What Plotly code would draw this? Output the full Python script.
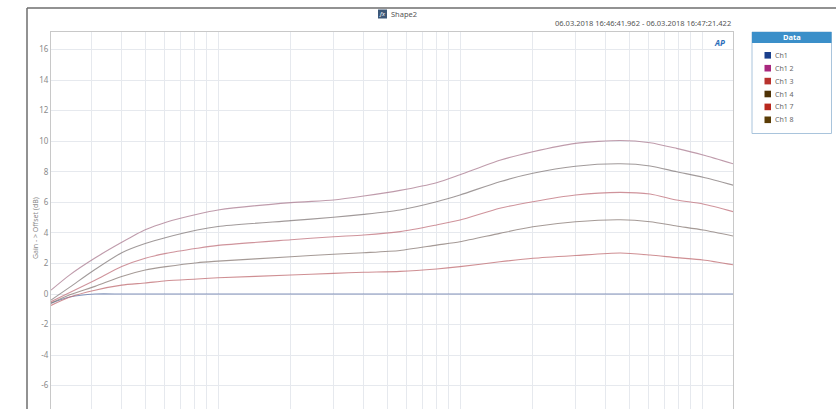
import plotly.graph_objects as go
import math

# ---- data ----
freqs = [20.4, 24.4, 31, 40, 50, 61, 82, 100, 200, 300, 400, 565, 800, 1000,
         1460, 2000, 3000, 4600, 6100, 7850, 10100, 13600]

ch1   = [-0.6, -0.2, 0.0, 0.0, 0.0, 0.0, 0.0, 0.0, 0.0, 0.0, 0.0, 0.0, 0.0, 0.0,
         0.0, 0.0, 0.0, 0.0, 0.0, 0.0, 0.0, 0.0]
ch1_2 = [0.25, 1.25, 2.35, 3.38, 4.2, 4.7, 5.22, 5.5, 5.98, 6.15, 6.41, 6.78, 7.28, 7.8,
         8.75, 9.31, 9.86, 10.05, 9.9, 9.53, 9.1, 8.5]
ch1_4 = [-0.4, 0.45, 1.6, 2.7, 3.3, 3.7, 4.19, 4.42, 4.8, 5.02, 5.21, 5.5, 6.04, 6.48,
         7.35, 7.9, 8.36, 8.52, 8.38, 8.0, 7.64, 7.1]
ch1_3 = [-0.5, 0.1, 0.9, 1.8, 2.34, 2.66, 2.99, 3.18, 3.55, 3.75, 3.86, 4.08, 4.52, 4.84,
         5.61, 6.04, 6.48, 6.65, 6.54, 6.15, 5.89, 5.37]
ch1_8 = [-0.6, -0.05, 0.5, 1.15, 1.57, 1.79, 2.05, 2.15, 2.44, 2.6, 2.7, 2.85, 3.2, 3.42,
         3.97, 4.4, 4.73, 4.86, 4.73, 4.45, 4.19, 3.78]
ch1_7 = [-0.75, -0.2, 0.25, 0.58, 0.72, 0.87, 0.98, 1.06, 1.24, 1.35, 1.42, 1.48, 1.64, 1.79,
         2.11, 2.34, 2.52, 2.68, 2.55, 2.38, 2.23, 1.9]

legend_names = ["Ch1", "Ch1 2", "Ch1 3", "Ch1 4", "Ch1 7", "Ch1 8"]
legend_colors = ["#1a3f8c", "#a8287e", "#b8322e", "#4e3206", "#b8281e", "#5a3c06"]

series = [
    ("Ch1", ch1, "rgba(110,130,175,0.85)"),
    ("Ch1 2", ch1_2, "rgba(175,130,150,0.8)"),
    ("Ch1 4", ch1_4, "rgba(130,120,120,0.75)"),
    ("Ch1 3", ch1_3, "rgba(195,120,130,0.8)"),
    ("Ch1 8", ch1_8, "rgba(135,120,115,0.75)"),
    ("Ch1 7", ch1_7, "rgba(195,115,120,0.8)"),
]

y_ticks = [-6, -4, -2, 0, 2, 4, 6, 8, 10, 12, 14, 16]
x_grid = sorted(set([d * m for m in (10, 100, 1000) for d in range(2, 10)] + [100, 1000, 10000]))

title_text = "Shape2"
date_text = "06.03.2018 16:46:41.962 - 06.03.2018 16:47:21.422"
y_title = "Gain - > Offset (dB)"

# ---- figure ----
W, H = 836, 409
L, R, T, B = 51, 733, 32, 409

def px(x):
    return (x - L) / (R - L)

def py(y):
    return (B - y) / (B - T)

fig = go.Figure()
for name, vals, col in series:
    fig.add_trace(go.Scatter(x=freqs, y=vals, mode="lines", name=name,
                             line=dict(color=col, width=1.1, shape="spline", smoothing=0.7),
                             showlegend=False, hoverinfo="skip"))

font_fam = "Noto Sans, Open Sans, sans-serif"

fig.update_layout(
    width=W, height=H,
    margin=dict(l=L, r=W - R, t=T, b=H - B, pad=0),
    paper_bgcolor="white", plot_bgcolor="white",
    showlegend=False,
    font=dict(family=font_fam, size=8, color="#888888"),
)
fig.update_xaxes(type="log", range=[math.log10(20.4), 2 + (R - 218) / 242],
                 tickvals=x_grid, showticklabels=False, ticks="",
                 showgrid=True, gridcolor="#e6e9ee", gridwidth=1,
                 showline=True, linecolor="#c8c8c8", linewidth=1, mirror=True,
                 zeroline=False)
fig.update_yaxes(range=[(294 - B) / 15.28, (294 - T) / 15.28],
                 tickvals=y_ticks, ticktext=[str(v) for v in y_ticks],
                 ticks="",
                 tickfont=dict(size=8, color="#8a8a8a", family=font_fam),
                 showgrid=True, gridcolor="#e6e9ee", gridwidth=1,
                 showline=True, linecolor="#c8c8c8", linewidth=1, mirror=True,
                 zeroline=False)

shapes = []
anns = []

def note(x, y, text, size, color, xanchor="center", angle=0):
    anns.append(dict(x=px(x), y=py(y), xref="paper", yref="paper", text=text, showarrow=False,
                     xanchor=xanchor, yanchor="middle", textangle=angle,
                     font=dict(size=size, color=color, family=font_fam)))

# outer frame lines
shapes.append(dict(type="line", xref="paper", yref="paper", x0=px(27), x1=px(836), y0=py(8), y1=py(8),
                   line=dict(color="#6e6e6e", width=1.5)))
shapes.append(dict(type="line", xref="paper", yref="paper", x0=px(27), x1=px(27), y0=py(8), y1=py(409),
                   line=dict(color="#6e6e6e", width=1.5)))
# title icon
shapes.append(dict(type="rect", xref="paper", yref="paper", x0=px(378), x1=px(387), y0=py(18.5), y1=py(9.5),
                   fillcolor="#3c5878", line=dict(width=0)))
note(382.5, 14, "<i>fx</i>", 6, "white")
note(388.5, 14, title_text, 7.5, "#555555", xanchor="left")
note(733, 23, date_text, 7.5, "#555555", xanchor="right")
# AP logo
note(719, 43, "<b><i>AP</i></b>", 8, "#2a6cb8")
# y title
note(35, 228, y_title, 7, "#8a8a8a", angle=-90)

# legend box
lx0, lx1, ly0, ly1 = 752, 831.5, 32, 133.5
shapes.append(dict(type="rect", xref="paper", yref="paper", x0=px(lx0), x1=px(lx1), y0=py(ly1), y1=py(ly0),
                   fillcolor="white", line=dict(color="#a9c4dc", width=1)))
shapes.append(dict(type="rect", xref="paper", yref="paper", x0=px(lx0), x1=px(lx1), y0=py(43), y1=py(ly0),
                   fillcolor="#3b8fc9", line=dict(width=0)))
note((lx0 + lx1) / 2, 37.5, "<b>Data</b>", 7.5, "white")
for i, (nm, col) in enumerate(zip(legend_names, legend_colors)):
    yc = 55.3 + i * 12.9
    shapes.append(dict(type="rect", xref="paper", yref="paper", x0=px(764.5), x1=px(771), y0=py(yc + 3.3),
                       y1=py(yc - 3.3), fillcolor=col, line=dict(width=0)))
    note(773, yc, nm, 7, "#666666", xanchor="left")

fig.update_layout(shapes=shapes, annotations=anns)
fig.write_html("out.html", config={"displayModeBar": False},
               post_script="document.body.style.margin='0';")
